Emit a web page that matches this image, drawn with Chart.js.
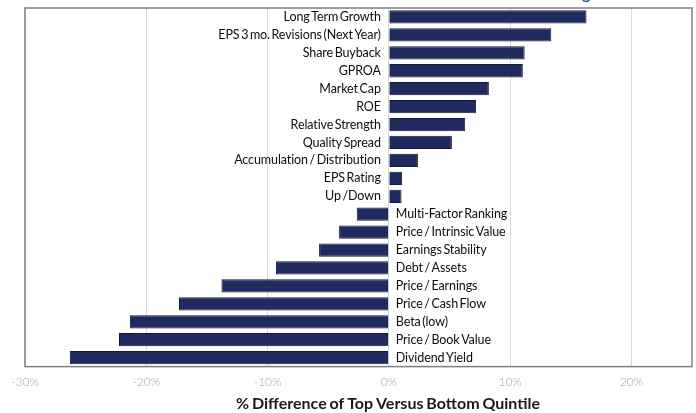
<!DOCTYPE html>
<html>
<head>
<meta charset="utf-8">
<script src="https://cdn.jsdelivr.net/npm/chart.js@4.4.0/dist/chart.umd.min.js"></script>
<style>
  html, body { margin: 0; padding: 0; background: #fff; }
  #wrap { width: 696px; height: 413px; position: relative; }
</style>
</head>
<body>
<div id="wrap"><canvas id="factorChart"></canvas></div>
<script>
// factors, top to bottom
const categories = [
    "Long Term Growth",
    "EPS 3 mo. Revisions (Next Year)",
    "Share Buyback",
    "GPROA",
    "Market Cap",
    "ROE",
    "Relative Strength",
    "Quality Spread",
    "Accumulation / Distribution",
    "EPS Rating",
    "Up /Down",
    "Multi-Factor Ranking",
    "Price / Intrinsic Value",
    "Earnings Stability",
    "Debt / Assets",
    "Price / Earnings",
    "Price / Cash Flow",
    "Beta (low)",
    "Price / Book Value",
    "Dividend Yield"
];

// % difference, top vs bottom quintile
const spreads = [
    16.3, 13.4, 11.2, 11.05, 8.25, 7.2, 6.3, 5.2, 2.4, 1.1, 1.05,
    -2.65, -4.1, -5.75, -9.3, -13.8, -17.3, -21.35, -22.25, -26.3
];

const xTicks = [-30, -20, -10, 0, 10, 20];
const xMin = -30;
const xMax = 25;
const axisTitle = "% Difference of Top Versus Bottom Quintile";
const titleFragment = "g"; // bottom of a title cut off at the top edge

// labels next to the zero line + frame + axis title
const decorations = {
    id: "decorations",
    afterDatasetsDraw(chart) {
        const ctx = chart.ctx;
        const xs = chart.scales.x;
        const ys = chart.scales.y;
        const zero = xs.getPixelForValue(0);
        ctx.save();
        ctx.font = "12.5px Lato";
        ctx.letterSpacing = "-0.1px";
        ctx.wordSpacing = "-1.5px";
        ctx.fillStyle = "#0d0d0d";
        ctx.textBaseline = "middle";
        categories.forEach((name, i) => {
            const y = ys.getPixelForValue(i);
            if (spreads[i] >= 0) {
                ctx.textAlign = "right";
                ctx.fillText(name, zero - 8, y);
            } else {
                ctx.textAlign = "left";
                ctx.fillText(name, zero + 7, y);
            }
        });
        ctx.restore();
    },
    afterDraw(chart) {
        const ctx = chart.ctx;
        const a = chart.chartArea;
        ctx.save();
        ctx.strokeStyle = "#7f7f7f";
        ctx.lineWidth = 1.5;
        ctx.strokeRect(a.left, a.top, a.right - a.left, a.bottom - a.top);

        ctx.font = "bold 16px Lato";
        ctx.wordSpacing = "-1px";
        ctx.fillStyle = "#1a1a1a";
        ctx.textAlign = "center";
        ctx.textBaseline = "middle";
        ctx.fillText(axisTitle, 388, 404);

        ctx.wordSpacing = "0px";
        ctx.font = "bold 16px Lato";
        ctx.fillStyle = "#2f5597";
        ctx.textAlign = "left";
        ctx.textBaseline = "alphabetic";
        ctx.fillText(titleFragment, 582, -1);
        ctx.restore();
    }
};

const ctx = document.getElementById("factorChart");

new Chart(ctx, {
    type: "bar",
    data: {
        labels: categories,
        datasets: [{
            data: spreads,
            backgroundColor: "#1f2b5e",
            borderColor: "#141a38",
            borderWidth: 1,
            barPercentage: 0.74,
            categoryPercentage: 1
        }]
    },
    options: {
        indexAxis: "y",
        responsive: true,
        maintainAspectRatio: false,
        animation: false,
        layout: {
            padding: { top: 8, left: 25, right: 4, bottom: 16 }
        },
        plugins: {
            legend: { display: false },
            tooltip: { enabled: false }
        },
        scales: {
            x: {
                min: xMin,
                max: xMax,
                afterBuildTicks: (scale) => {
                    scale.ticks = xTicks.map(v => ({ value: v }));
                },
                grid: {
                    color: "#d9d9d9",
                    lineWidth: 1,
                    drawTicks: false
                },
                border: { display: false },
                ticks: {
                    padding: 8,
                    color: "#a6a6a6",
                    font: { family: "Lato", size: 12, weight: "300" },
                    callback: (v) => v + "%"
                }
            },
            y: {
                display: false
            }
        }
    },
    plugins: [decorations]
});
</script>
</body>
</html>
